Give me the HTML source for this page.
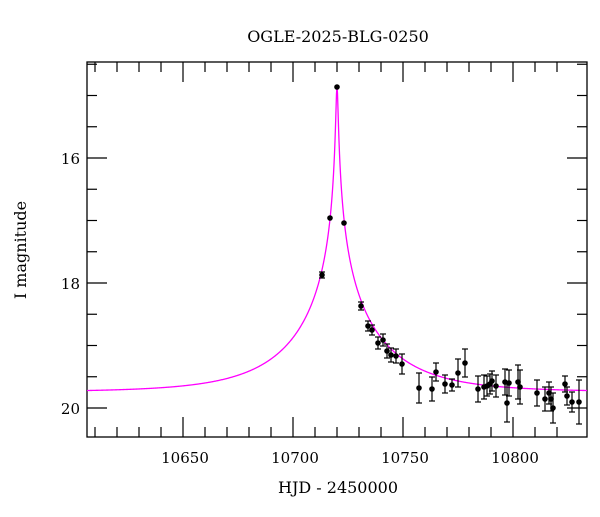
<!DOCTYPE html>
<html><head><meta charset="utf-8"><style>
body{margin:0;background:#fff;}
svg text{font-family:"DejaVu Serif",serif;fill:#000;}
</style></head><body>
<svg id="s" width="600" height="512" xmlns="http://www.w3.org/2000/svg">
<text x="338" y="42" font-size="16" text-anchor="middle">OGLE-2025-BLG-0250</text>
<text x="338" y="493" font-size="16" text-anchor="middle">HJD - 2450000</text>
<text transform="translate(26,250) rotate(-90)" font-size="16" text-anchor="middle">I magnitude</text>
<rect x="87" y="62" width="500" height="375" fill="none" stroke="#000" stroke-width="1.3"/>
<g id="ticks" stroke="#000" stroke-width="1.2"></g>
<g id="labels" font-size="15"></g>
<path id="curve" fill="none" stroke="#ff00ff" stroke-width="1.3"/>
<g id="pts"></g>
</svg>
<script>
var ns="http://www.w3.org/2000/svg";
function el(p,t,a){var e=document.createElementNS(ns,t);for(var k in a)e.setAttribute(k,a[k]);p.appendChild(e);return e;}
var T=document.getElementById('ticks'),L=document.getElementById('labels');
for(var d=10610;d<=10820;d+=10){var x=183+(d-10650)*2.2;var M=(d%50==0);var len=M?20:10;
el(T,'line',{x1:x,y1:437,x2:x,y2:437-len});el(T,'line',{x1:x,y1:62,x2:x,y2:62+len});
if(M){var t=el(L,'text',{x:x+2,y:463,'text-anchor':'middle'});t.textContent=d;}}
for(var m=14.5;m<=20.5;m+=0.5){var y=158+(m-16)*62.5;if(y<62||y>437)continue;var M=(m%2==0);var len=M?20:10;
el(T,'line',{x1:87,y1:y,x2:87+len,y2:y});el(T,'line',{x1:587,y1:y,x2:587-len,y2:y});
if(M){var t=el(L,'text',{x:80,y:y+6,'text-anchor':'end'});t.textContent=m;}}
var u0=0.011,tE=41,base=392,t0=337;var dpath='';
for(var x=87;x<=587;x+=0.5){var dt=(x-t0)/2.2;var u=Math.sqrt(u0*u0+(dt/tE)*(dt/tE));
var A=(u*u+2)/(u*Math.sqrt(u*u+4));var y=base-2.5*Math.log10(A)*62.5;dpath+=(x==87?'M':'L')+x+','+y.toFixed(2);}
document.getElementById('curve').setAttribute('d',dpath);
var P=[[337,87,0],[330,218,0],[344,223,0],[322,275,3],[361,306,4],[368,326,5],[372,330,5],[378,343,6],[383,340,6],[387,351,7],[391,355,7],[396,356,7],[402,364,10],[419,388,15],[432,389,12],[436,372,9],[445,384,9],[452,385,6],[458,373,14],[465,363,14],[478,389,13],[484,387,12],[487,386,10],[490,384,10],[492,381,10],[496,386,11],[505,382,13],[507,403,19],[509,383,13],[518,382,17],[520,387,17],[537,393,13],[545,399,12],[549,393,11],[551,399,12],[553,408,15],[565,384,8],[567,396,9],[572,402,10],[579,402,22]];
var G=document.getElementById('pts');
P.forEach(function(p){var x=p[0],y=p[1],e=p[2];
if(e>0){el(G,'line',{x1:x,y1:y-e,x2:x,y2:y+e,stroke:'#000','stroke-width':1.2});
el(G,'line',{x1:x-3,y1:y-e,x2:x+3,y2:y-e,stroke:'#000','stroke-width':1.2});
el(G,'line',{x1:x-3,y1:y+e,x2:x+3,y2:y+e,stroke:'#000','stroke-width':1.2});}
el(G,'circle',{cx:x,cy:y,r:2.8,fill:'#000'});});
</script>
</body></html>
